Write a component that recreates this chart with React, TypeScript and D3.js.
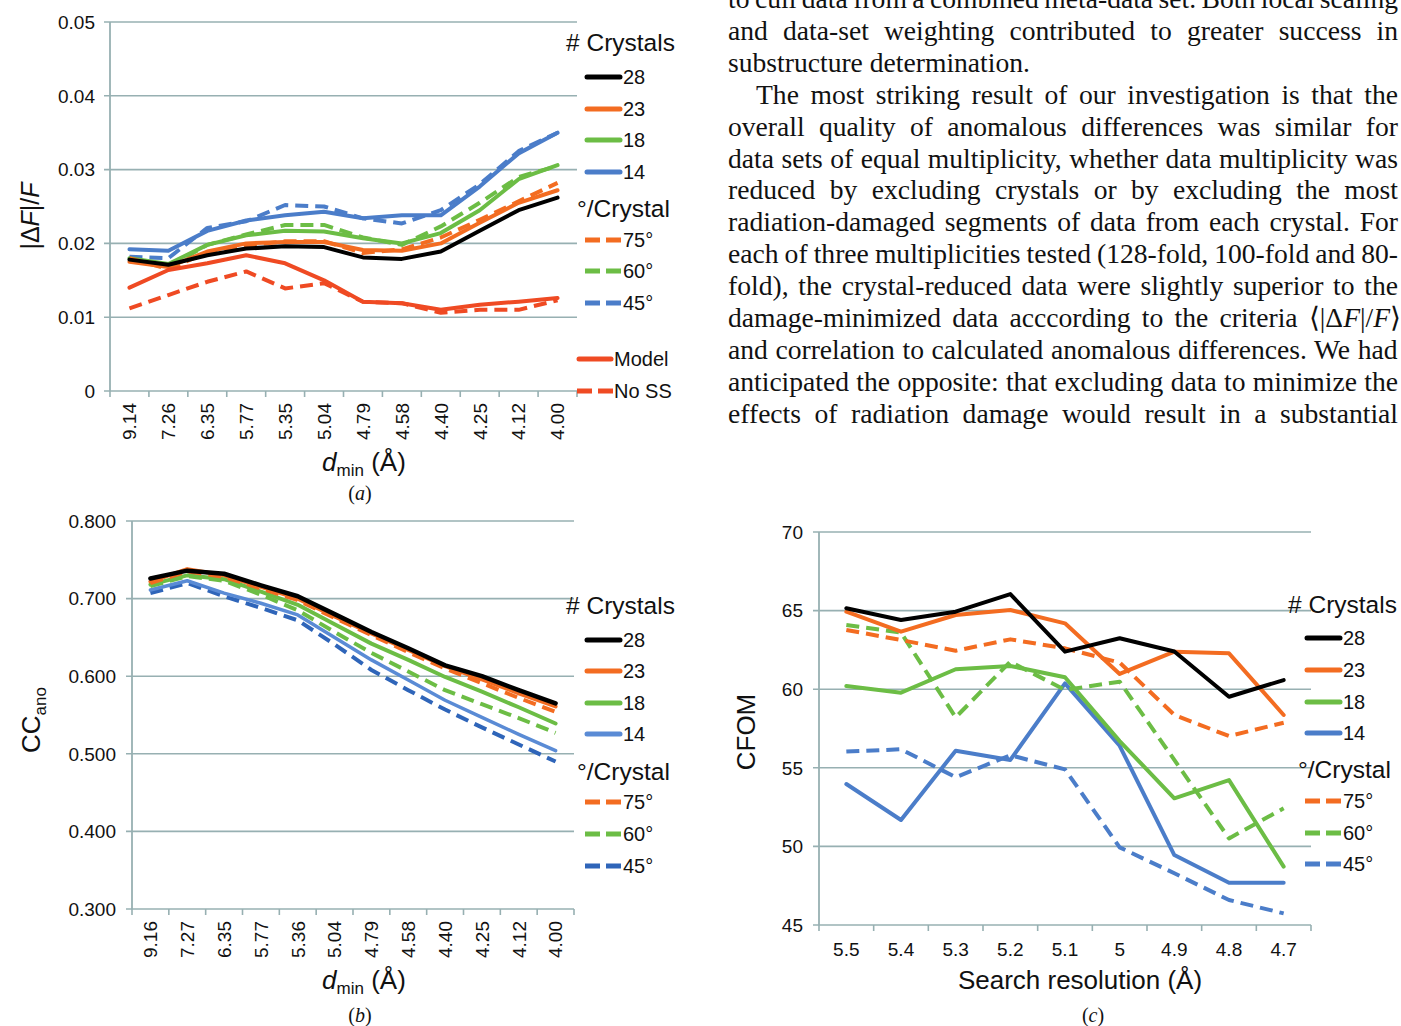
import React, { useMemo } from 'react';
import * as d3 from 'd3';

// ---------------- DATA ----------------
const catsA = ['9.14', '7.26', '6.35', '5.77', '5.35', '5.04', '4.79', '4.58', '4.40', '4.25', '4.12', '4.00'];
const a28 = [0.0178, 0.0171, 0.0184, 0.0193, 0.0196, 0.0195, 0.0181, 0.0179, 0.0189, 0.0217, 0.0245, 0.0262];
const a23 = [0.0175, 0.0168, 0.0189, 0.0200, 0.0202, 0.0202, 0.0191, 0.0190, 0.0200, 0.0228, 0.0255, 0.0272];
const a18 = [0.0180, 0.0172, 0.0198, 0.0211, 0.0217, 0.0216, 0.0207, 0.0200, 0.0214, 0.0245, 0.0287, 0.0306];
const a14 = [0.0192, 0.0190, 0.0217, 0.0231, 0.0238, 0.0243, 0.0234, 0.0238, 0.0238, 0.0277, 0.0322, 0.0350];
const a75 = [0.0180, 0.0165, 0.0188, 0.0197, 0.0203, 0.0203, 0.0187, 0.0192, 0.0208, 0.0232, 0.0257, 0.0282];
const a60 = [0.0178, 0.0168, 0.0198, 0.0212, 0.0225, 0.0225, 0.0208, 0.0198, 0.0223, 0.0255, 0.0290, 0.0305];
const a45 = [0.0182, 0.0180, 0.0221, 0.0230, 0.0252, 0.0250, 0.0234, 0.0227, 0.0245, 0.0280, 0.0325, 0.0350];
const aModel = [0.0140, 0.0164, 0.0173, 0.0184, 0.0173, 0.0150, 0.0121, 0.0119, 0.0110, 0.0117, 0.0121, 0.0126];
const aNoSS = [0.0112, 0.0130, 0.0148, 0.0162, 0.0139, 0.0146, 0.0121, 0.0119, 0.0106, 0.0110, 0.0110, 0.0123];
const ticksA = [0, 0.01, 0.02, 0.03, 0.04, 0.05];

const catsB = ['9.16', '7.27', '6.35', '5.77', '5.36', '5.04', '4.79', '4.58', '4.40', '4.25', '4.12', '4.00'];
const b28 = [0.726, 0.736, 0.732, 0.717, 0.703, 0.680, 0.657, 0.636, 0.614, 0.600, 0.582, 0.565];
const b23 = [0.722, 0.738, 0.730, 0.715, 0.700, 0.677, 0.655, 0.634, 0.613, 0.596, 0.578, 0.561];
const b18 = [0.718, 0.730, 0.725, 0.709, 0.692, 0.667, 0.642, 0.621, 0.599, 0.580, 0.560, 0.539];
const b14 = [0.711, 0.723, 0.707, 0.694, 0.679, 0.650, 0.621, 0.595, 0.569, 0.547, 0.525, 0.504];
const b75 = [0.720, 0.735, 0.728, 0.713, 0.698, 0.675, 0.653, 0.631, 0.610, 0.591, 0.572, 0.554];
const b60 = [0.716, 0.729, 0.723, 0.705, 0.685, 0.657, 0.630, 0.606, 0.582, 0.564, 0.546, 0.527];
const b45 = [0.707, 0.720, 0.703, 0.688, 0.672, 0.641, 0.608, 0.582, 0.557, 0.534, 0.512, 0.490];
const ticksB = [0.3, 0.4, 0.5, 0.6, 0.7, 0.8];

const catsC = ['5.5', '5.4', '5.3', '5.2', '5.1', '5', '4.9', '4.8', '4.7'];
const c28 = [65.15, 64.4, 64.93, 66.05, 62.39, 63.24, 62.4, 59.52, 60.58];
const c23 = [64.93, 63.66, 64.72, 65.04, 64.19, 60.97, 62.39, 62.28, 58.36];
const c18 = [60.2, 59.78, 61.27, 61.48, 60.76, 56.7, 53.06, 54.22, 48.71];
const c14 = [53.97, 51.68, 56.09, 55.5, 60.37, 56.4, 49.45, 47.69, 47.69];
const c75 = [63.77, 63.13, 62.45, 63.17, 62.6, 61.69, 58.36, 57.02, 57.87];
const c60 = [64.08, 63.6, 58.21, 61.75, 59.95, 60.48, 55.5, 50.51, 52.42];
const c45 = [56.03, 56.18, 54.4, 55.8, 54.9, 49.94, 48.29, 46.59, 45.74];
const ticksC = [45, 50, 55, 60, 65, 70];

const crystalLabels = ['28', '23', '18', '14'];
const degreeLabels = ['75°', '60°', '45°'];
const modelLabels = ['Model', 'No SS'];

const bodyLines = [
  'to cull data from a combined meta-data set. Both local scaling',
  'and data-set weighting contributed to greater success in',
  'substructure determination.',
  'The most striking result of our investigation is that the',
  'overall quality of anomalous differences was similar for',
  'data sets of equal multiplicity, whether data multiplicity was',
  'reduced by excluding crystals or by excluding the most',
  'radiation-damaged segments of data from each crystal. For',
  'each of three multiplicities tested (128-fold, 100-fold and 80-',
  'fold), the crystal-reduced data were slightly superior to the',
  'damage-minimized data acccording to the criteria \u27E8|\u0394F|/F\u27E9',
  'and correlation to calculated anomalous differences. We had',
  'anticipated the opposite: that excluding data to minimize the',
  'effects of radiation damage would result in a substantial',
];

// ---------------- STYLE ----------------
const BLACK = '#000000';
const ORANGE = '#f36c21';
const GREEN = '#6cbd45';
const BLUE = '#4b7dc9';
const BLUE_L = '#5a8bd5';
const BLUE_D = '#2f65b9';
const RED = '#ef4a23';
const GRID = '#97b0b2';
const SANS = '"Liberation Sans", Arial, sans-serif';
const SERIF = '"Liberation Serif", "Times New Roman", serif';
const DASH = '13 7';
const TICK_FS = 19;

type S = { values: number[]; color: string; dash?: boolean; w?: number };

function Chart(props: {
  cats: string[];
  series: S[];
  left: number;
  right: number;
  top: number;
  bottom: number;
  ticks: number[];
  fmt: (v: number) => string;
  rotate: boolean;
  labelRight: number;
}) {
  const { cats, series, left, right, top, bottom, ticks, fmt, rotate, labelRight } = props;
  const x = d3.scaleBand<string>().domain(cats).range([left, right]);
  const y = d3.scaleLinear().domain([ticks[0], ticks[ticks.length - 1]]).range([bottom, top]);
  const cx = (i: number) => (x(cats[i]) as number) + x.bandwidth() / 2;
  const line = d3
    .line<number>()
    .x((_, i) => cx(i))
    .y((d) => y(d));
  const bounds = cats.map((c) => x(c) as number).concat([right]);
  return (
    <g>
      {ticks.map((t, i) => (
        <g key={'t' + i}>
          <line x1={left - 6} x2={right} y1={y(t)} y2={y(t)} stroke={GRID} strokeWidth={1.6} />
          <text x={labelRight} y={y(t)} dy="0.36em" textAnchor="end" fontFamily={SANS} fontSize={TICK_FS} fill="#111">
            {fmt(t)}
          </text>
        </g>
      ))}
      <line x1={left} x2={left} y1={top} y2={bottom} stroke={GRID} strokeWidth={1.8} />
      {bounds.map((b, i) => (
        <line key={'b' + i} x1={b} x2={b} y1={bottom} y2={bottom + 6} stroke={GRID} strokeWidth={1.6} />
      ))}
      {cats.map((c, i) =>
        rotate ? (
          <text
            key={'c' + i}
            transform={`translate(${cx(i)},${bottom + 12}) rotate(-90)`}
            dy="0.36em"
            textAnchor="end"
            fontFamily={SANS}
            fontSize={TICK_FS}
            fill="#111"
          >
            {c}
          </text>
        ) : (
          <text key={'c' + i} x={cx(i)} y={bottom + 31} textAnchor="middle" fontFamily={SANS} fontSize={TICK_FS} fill="#111">
            {c}
          </text>
        )
      )}
      {series.map((s, i) => (
        <path
          key={'s' + i}
          d={line(s.values) || ''}
          fill="none"
          stroke={s.color}
          strokeWidth={s.w ?? 4}
          strokeDasharray={s.dash ? DASH : undefined}
          strokeLinejoin="round"
          strokeLinecap={s.dash ? 'butt' : 'round'}
        />
      ))}
    </g>
  );
}

type LItem = { label: string; color: string; dash?: boolean; y: number };

function Legend(props: { titles: { text: string; x: number; y: number }[]; items: LItem[]; x1: number; x2: number }) {
  const { titles, items, x1, x2 } = props;
  return (
    <g fontFamily={SANS}>
      {titles.map((t, i) => (
        <text key={'lt' + i} x={t.x} y={t.y + 8} fontSize={24.5} fill="#111">
          {t.text}
        </text>
      ))}
      {items.map((it, i) => (
        <g key={'li' + i}>
          <line
            x1={it.dash ? x1 : x1 + 2}
            x2={it.dash ? x2 : x2 - 2}
            y1={it.y}
            y2={it.y}
            stroke={it.color}
            strokeWidth={5}
            strokeDasharray={it.dash ? '15 6' : undefined}
            strokeLinecap={it.dash ? 'butt' : 'round'}
          />
          <text x={x2 + 1} y={it.y + 7} fontSize={20} fill="#111">
            {it.label}
          </text>
        </g>
      ))}
    </g>
  );
}

function Body() {
  const left = 728;
  const right = 1398;
  const size = 27.6;
  const lineH = 31.9;
  const firstBaseline = 8;
  const layout = useMemo(() => {
    const canvas = document.createElement('canvas');
    const ctx = canvas.getContext('2d');
    if (ctx) ctx.font = `${size}px "Liberation Serif"`;
    return bodyLines.map((ln, i) => {
      const indent = i === 3 ? 28 : 0;
      const last = i === 2;
      const nat = ctx ? ctx.measureText(ln).width : ln.length * 11;
      const spaces = (ln.match(/ /g) || []).length;
      const target = right - left - indent;
      const ws = last || spaces === 0 ? 0 : (target - nat) / spaces;
      return { ln, x: left + indent, ws, y: firstBaseline + i * lineH };
    });
  }, []);
  return (
    <g fontFamily={SERIF} fontSize={size} fill="#111">
      {layout.map((l, i) => {
        if (i === 10) {
          return (
            <text key={i} x={l.x} y={l.y} style={{ wordSpacing: `${l.ws}px` }}>
              {'damage-minimized data acccording to the criteria \u27E8|\u0394'}
              <tspan fontStyle="italic">F</tspan>
              {'|/'}
              <tspan fontStyle="italic">F</tspan>
              {'\u27E9'}
            </text>
          );
        }
        return (
          <text key={i} x={l.x} y={l.y} style={{ wordSpacing: `${l.ws}px` }}>
            {l.ln}
          </text>
        );
      })}
    </g>
  );
}

export default function App() {
  const seriesA: S[] = [
    { values: a45, color: BLUE, dash: true },
    { values: a14, color: BLUE },
    { values: a60, color: GREEN, dash: true },
    { values: a18, color: GREEN },
    { values: a75, color: ORANGE, dash: true },
    { values: a23, color: ORANGE },
    { values: a28, color: BLACK },
    { values: aNoSS, color: RED, dash: true },
    { values: aModel, color: RED },
  ];
  const seriesB: S[] = [
    { values: b45, color: BLUE_D, dash: true },
    { values: b14, color: BLUE_L, w: 3.5 },
    { values: b60, color: GREEN, dash: true },
    { values: b18, color: GREEN },
    { values: b75, color: ORANGE, dash: true },
    { values: b23, color: ORANGE },
    { values: b28, color: BLACK, w: 4.5 },
  ];
  const seriesC: S[] = [
    { values: c45, color: BLUE, dash: true },
    { values: c14, color: BLUE },
    { values: c60, color: GREEN, dash: true },
    { values: c18, color: GREEN },
    { values: c75, color: ORANGE, dash: true },
    { values: c23, color: ORANGE },
    { values: c28, color: BLACK },
  ];
  const crystalColors = [BLACK, ORANGE, GREEN, BLUE];
  const degColors = [ORANGE, GREEN, BLUE];

  const legendItems = (ys: number[], ds: number[], blueSolid: string, blueDash: string) => [
    ...crystalLabels.map((l, i) => ({ label: l, color: i === 3 ? blueSolid : crystalColors[i], y: ys[i] })),
    ...degreeLabels.map((l, i) => ({ label: l, color: i === 2 ? blueDash : degColors[i], dash: true, y: ds[i] })),
  ];

  return (
    <svg width={1401} height={1026} style={{ position: 'absolute', left: 0, top: 0, background: '#fff' }}>
      <rect x={0} y={0} width={1401} height={1026} fill="#fff" />
      <Body />

      {/* (a) */}
      <Chart
        cats={catsA}
        series={seriesA}
        left={110}
        right={577}
        top={22}
        bottom={391}
        ticks={ticksA}
        fmt={(v) => (v === 0 ? '0' : v.toFixed(2))}
        rotate
        labelRight={95}
      />
      <Legend
        titles={[
          { text: '# Crystals', x: 566, y: 43 },
          { text: '°/Crystal', x: 577, y: 209 },
        ]}
        items={legendItems([77, 109, 140, 172], [240, 271, 303], BLUE, BLUE)}
        x1={585}
        x2={622}
      />
      <Legend
        titles={[]}
        items={[
          { label: modelLabels[0], color: RED, y: 359 },
          { label: modelLabels[1], color: RED, dash: true, y: 391 },
        ]}
        x1={577}
        x2={613}
      />
      <text transform="translate(39,216) rotate(-90)" textAnchor="middle" fontFamily={SANS} fontSize={25} fill="#111">
        {'|\u0394'}
        <tspan fontStyle="italic">F</tspan>
        {'|/'}
        <tspan fontStyle="italic">F</tspan>
      </text>
      <text x={364} y={471} textAnchor="middle" fontFamily={SANS} fontSize={26} fill="#111">
        <tspan fontStyle="italic">d</tspan>
        <tspan fontSize={17} dy={5}>
          min
        </tspan>
        <tspan dy={-5}> (Å)</tspan>
      </text>
      <text x={360} y={500} textAnchor="middle" fontFamily={SERIF} fontSize={20} fill="#111">
        (<tspan fontStyle="italic">a</tspan>)
      </text>

      {/* (b) */}
      <Chart
        cats={catsB}
        series={seriesB}
        left={132}
        right={574}
        top={521}
        bottom={909}
        ticks={ticksB}
        fmt={(v) => v.toFixed(3)}
        rotate
        labelRight={116}
      />
      <Legend
        titles={[
          { text: '# Crystals', x: 566, y: 606 },
          { text: '°/Crystal', x: 577, y: 772 },
        ]}
        items={legendItems([640, 671, 703, 734], [802, 834, 866], BLUE_L, BLUE_D)}
        x1={585}
        x2={622}
      />
      <text transform="translate(40,720) rotate(-90)" textAnchor="middle" fontFamily={SANS} fontSize={26} fill="#111">
        CC
        <tspan fontSize={17} dy={6}>
          ano
        </tspan>
      </text>
      <text x={364} y={989} textAnchor="middle" fontFamily={SANS} fontSize={26} fill="#111">
        <tspan fontStyle="italic">d</tspan>
        <tspan fontSize={17} dy={5}>
          min
        </tspan>
        <tspan dy={-5}> (Å)</tspan>
      </text>
      <text x={360} y={1022} textAnchor="middle" fontFamily={SERIF} fontSize={20} fill="#111">
        (<tspan fontStyle="italic">b</tspan>)
      </text>

      {/* (c) */}
      <Chart
        cats={catsC}
        series={seriesC}
        left={819}
        right={1311}
        top={532}
        bottom={925}
        ticks={ticksC}
        fmt={(v) => String(v)}
        rotate={false}
        labelRight={803}
      />
      <Legend
        titles={[
          { text: '# Crystals', x: 1288, y: 605 },
          { text: '°/Crystal', x: 1298, y: 770 },
        ]}
        items={legendItems([638, 670, 702, 733], [801, 833, 864], BLUE, BLUE)}
        x1={1305}
        x2={1342}
      />
      <text transform="translate(755,732) rotate(-90)" textAnchor="middle" fontFamily={SANS} fontSize={26} fill="#111">
        CFOM
      </text>
      <text x={1080} y={989} textAnchor="middle" fontFamily={SANS} fontSize={26} fill="#111">
        Search resolution (Å)
      </text>
      <text x={1093} y={1022} textAnchor="middle" fontFamily={SERIF} fontSize={20} fill="#111">
        (<tspan fontStyle="italic">c</tspan>)
      </text>
    </svg>
  );
}
